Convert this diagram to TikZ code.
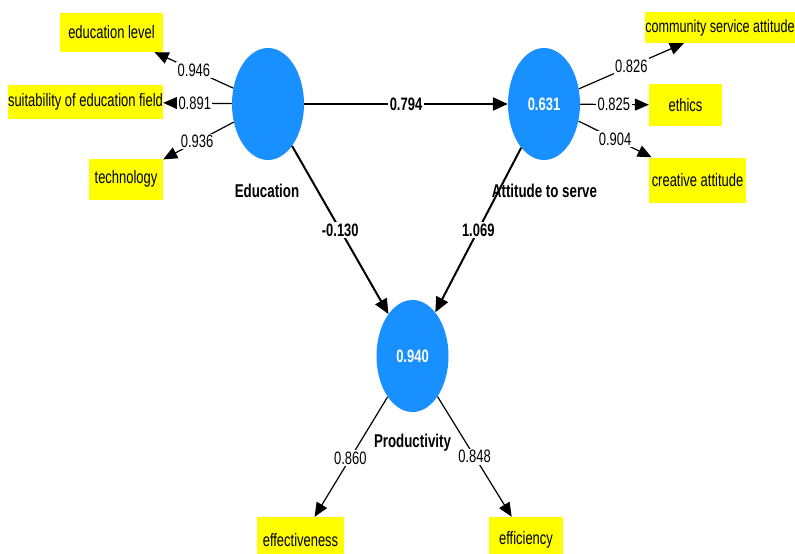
\documentclass[tikz,border=0pt]{standalone}
\usepackage{fontspec}
\setmainfont[FakeStretch=0.72]{Liberation Sans}
\usetikzlibrary{arrows.meta,shapes.geometric}
\definecolor{lvblue}{RGB}{24,144,255}
\definecolor{indyel}{RGB}{255,255,0}
\begin{document}
\begin{tikzpicture}[x=1pt,y=-1pt,
  txt/.style={font=\fontsize{18}{20}\selectfont},
  lv/.style={ellipse,fill=lvblue,minimum width=72pt,minimum height=112pt,inner sep=0pt,
             font=\fontsize{18}{20}\selectfont\bfseries,text=white},
  ind/.style={fill=indyel,inner sep=0pt,txt},
  lvname/.style={font=\fontsize{18.5}{20}\selectfont\bfseries,inner sep=0pt},
  meas/.style={line width=1.2pt,-{Triangle[length=14pt,width=12pt]}},
  struct/.style={line width=2pt,-{Triangle[length=15pt,width=13pt]}},
  wt/.style={fill=white,inner sep=1.5pt,txt},
  pc/.style={fill=white,inner sep=1.5pt,font=\fontsize{18}{20}\selectfont\bfseries}]
\clip (0,0) rectangle (795,554);
\fill[white] (0,0) rectangle (795,554);
% latent variables
\node[lv] (edu) at (268,104) {};
\node[lv] (att) at (544,104) {0.631};
\node[lv] (prod) at (412.5,356) {0.940};
\node[lvname] (edulab) at (267,191) {Education};
\node[lvname] (attlab) at (544.5,191) {Attitude to serve};
\node[lvname] (prodlab) at (412.5,443) {Productivity};
% indicators
\node[ind,minimum width=103pt,minimum height=39pt] (el) at (111.5,32.5) {education level};
\node[ind,minimum width=155pt,minimum height=34pt] (sef) at (85.5,102) {suitability of education field};
\node[ind,minimum width=74pt,minimum height=41pt] (tech) at (126,179) {technology};
\node[ind,minimum width=150pt,minimum height=31pt,font=\fontsize{17.5}{20}\selectfont] (csa) at (720,27.5) {community service attitude};
\node[ind,minimum width=73pt,minimum height=42pt] (eth) at (685.5,105) {ethics};
\node[ind,minimum width=97pt,minimum height=45pt] (cre) at (697.5,180) {creative attitude};
\node[ind,minimum width=87pt,minimum height=46pt] (eff) at (300.5,540) {effectiveness};
\node[ind,minimum width=74pt,minimum height=46pt] (efc) at (526,540) {efficiency};
% structural paths
\draw[struct,line width=2.6pt] (edu) -- node[pc] {0.794} (att);
\draw[struct] (edu) -- node[pc] {-0.130} (prod);
\draw[struct] (att) -- node[pc] {1.069} (prod);
% measurement paths
\draw[meas] (edu) -- node[wt,pos=0.5] {0.946} (el);
\draw[meas] (edu) -- node[wt,pos=0.54] {0.891} (sef);
\draw[meas] (edu) -- node[wt,pos=0.52] {0.936} (tech);
\draw[meas] (att) -- node[wt,pos=0.5] {0.826} (csa);
\draw[meas] (att) -- node[wt,pos=0.49] {0.825} (eth);
\draw[meas] (att) -- node[wt,pos=0.5] {0.904} (cre);
\draw[meas] (prod) -- node[wt,pos=0.51] {0.860} (eff);
\draw[meas] (prod) -- node[wt,pos=0.5] {0.848} (efc);
\end{tikzpicture}
\end{document}
